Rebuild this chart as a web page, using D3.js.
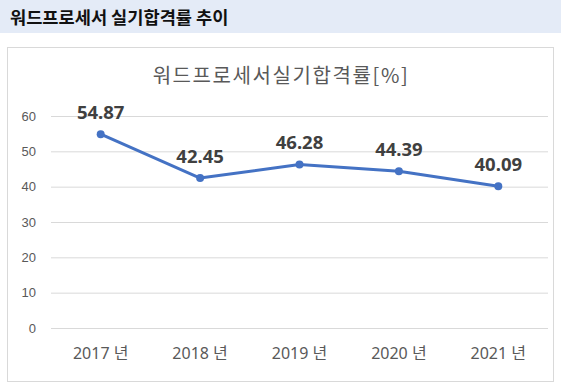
<!DOCTYPE html>
<html><head><meta charset="utf-8">
<script src="https://cdn.jsdelivr.net/npm/d3@7"></script>
<style>
body{margin:0;background:#fff;}
svg{display:block;font-family:"Noto Sans","Noto Sans CJK KR",sans-serif;}
</style></head>
<body>
<svg id="c" width="561" height="391"></svg>
<script>
const categories = ["2017 년","2018 년","2019 년","2020 년","2021 년"];
const values = [54.87, 42.45, 46.28, 44.39, 40.09];
const yTicks = [0,10,20,30,40,50,60];
const pageTitle = "워드프로세서 실기합격률 추이";
const chartTitle = "워드프로세서실기합격률[%]";

const svg = d3.select("#c");
svg.append("rect").attr("x",0).attr("y",0).attr("width",561).attr("height",33).attr("fill","#e4ebf7");
svg.append("text").attr("x",10).attr("y",24).attr("font-size",17.6).attr("font-weight","bold")
  .attr("font-family","'Noto Sans CJK KR',sans-serif").attr("fill","#111").text(pageTitle);
svg.append("rect").attr("x",7.5).attr("y",47.5).attr("width",546).attr("height",334)
  .attr("fill","#fff").attr("stroke","#d9d9d9");
svg.append("text").attr("x",281).attr("y",83).attr("text-anchor","middle").attr("font-size",20)
  .attr("letter-spacing",1.6)
  .attr("font-family","'Noto Sans CJK KR',sans-serif").attr("fill","#595959").text(chartTitle);

const x = d3.scaleBand().domain(categories).range([51,548]);
const y = d3.scaleLinear().domain([0,60]).range([328,116]);

const ga = svg.append("g").attr("transform","translate(51,0)")
  .call(d3.axisLeft(y).tickValues(yTicks).tickSize(-497).tickPadding(15));
ga.select(".domain").remove();
ga.selectAll("line").attr("stroke","#d9d9d9");
ga.selectAll("text").attr("fill","#595959").attr("font-size",13);

const gx = svg.append("g").attr("transform","translate(0,328)")
  .call(d3.axisBottom(x).tickSize(0).tickPadding(20));
gx.select(".domain").remove();
gx.selectAll("text").attr("fill","#595959").attr("font-size",16)
  .attr("font-family","'Noto Sans','Noto Sans CJK KR',sans-serif");

const cx = d => x(d) + x.bandwidth()/2;
const data = categories.map((c,i)=>({c, v:values[i]}));
svg.append("path").datum(data).attr("fill","none").attr("stroke","#4472c4").attr("stroke-width",3)
  .attr("stroke-linejoin","round")
  .attr("d", d3.line().x(d=>cx(d.c)).y(d=>y(d.v)));
svg.selectAll("circle.p").data(data).join("circle").attr("class","p")
  .attr("cx",d=>cx(d.c)).attr("cy",d=>y(d.v)).attr("r",4).attr("fill","#4472c4");
svg.selectAll("text.lbl").data(data).join("text").attr("class","lbl")
  .attr("x",d=>cx(d.c)).attr("y",d=>y(d.v)-15).attr("text-anchor","middle")
  .attr("font-size",18.5).attr("font-weight","bold").attr("fill","#404040")
  .text(d=>d.v.toFixed(2));
</script>
</body></html>
